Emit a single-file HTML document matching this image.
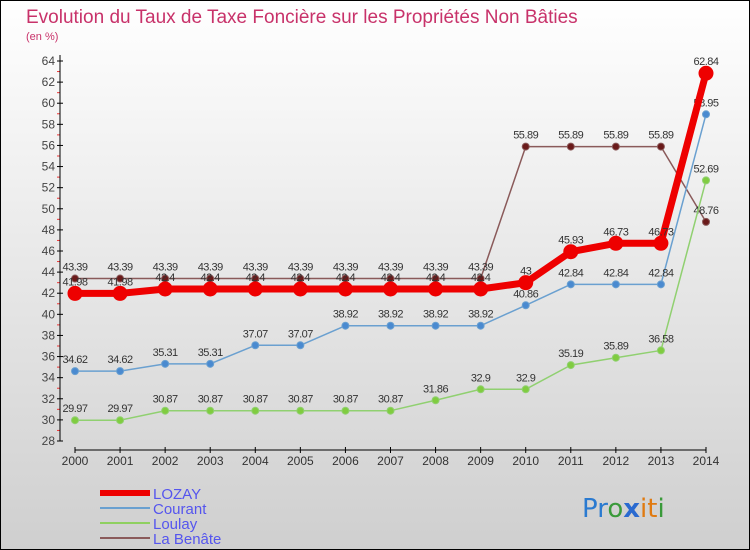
<!DOCTYPE html>
<html><head><meta charset="utf-8"><style>
body{margin:0;width:750px;height:550px;overflow:hidden;font-family:"Liberation Sans",sans-serif}
svg{display:block}
</style></head><body>
<svg id="c" width="750" height="550">
<defs><linearGradient id="bg" x1="0" y1="0" x2="0" y2="1"><stop offset="0" stop-color="#ffffff"/><stop offset="1" stop-color="#cfcfcf"/></linearGradient></defs>
<rect x="0.5" y="0.5" width="749" height="549" fill="url(#bg)" stroke="#000"/>
<text x="26" y="23" font-size="19" fill="#c8326a">Evolution du Taux de Taxe Foncière sur les Propriétés Non Bâties</text>
<text x="26" y="40" font-size="11" fill="#c8326a">(en %)</text>
<g id="axes"></g><g id="series"></g>
<g>
<line x1="100" y1="493" x2="150" y2="493" stroke="#e00" stroke-width="6"/>
<text x="153" y="499" font-size="15" fill="#5555ee">LOZAY</text>
<line x1="100" y1="508" x2="150" y2="508" stroke="#6aa0d0" stroke-width="2"/>
<text x="153" y="514" font-size="15" fill="#5555ee">Courant</text>
<line x1="100" y1="523" x2="150" y2="523" stroke="#8fd060" stroke-width="2"/>
<text x="153" y="529" font-size="15" fill="#5555ee">Loulay</text>
<line x1="100" y1="538" x2="150" y2="538" stroke="#8a5a5a" stroke-width="2"/>
<text x="153" y="544" font-size="15" fill="#5555ee">La Benâte</text>
</g>
<text x="582" y="517" font-size="26" font-family="'DejaVu Sans',sans-serif"><tspan fill="#2a7ad0">Pr</tspan><tspan fill="#3a9a3a">o</tspan><tspan fill="#2a6ad0" font-weight="bold">x</tspan><tspan fill="#e07a10">it</tspan><tspan fill="#3a9a3a">i</tspan></text>
</svg>
<script>
const years=[2000,2001,2002,2003,2004,2005,2006,2007,2008,2009,2010,2011,2012,2013,2014];
const yTicks=[28,30,32,34,36,38,40,42,44,46,48,50,52,54,56,58,60,62,64];
const benate=[43.39,43.39,43.39,43.39,43.39,43.39,43.39,43.39,43.39,43.39,55.89,55.89,55.89,55.89,48.76];
const loulay=[29.97,29.97,30.87,30.87,30.87,30.87,30.87,30.87,31.86,32.9,32.9,35.19,35.89,36.58,52.69];
const courant=[34.62,34.62,35.31,35.31,37.07,37.07,38.92,38.92,38.92,38.92,40.86,42.84,42.84,42.84,58.95];
const lozay=[41.98,41.98,42.4,42.4,42.4,42.4,42.4,42.4,42.4,42.4,43,45.93,46.73,46.73,62.84];
const NS="http://www.w3.org/2000/svg";
const X=i=>75+i*(706-75)/14;
const Y=v=>441-(v-28)*(441-61)/36;
function mk(t,a,p){const e=document.createElementNS(NS,t);for(const k in a)e.setAttribute(k,a[k]);p.appendChild(e);return e;}
const ax=document.getElementById('axes');
yTicks.forEach(v=>{
 mk('line',{x1:57,x2:63,y1:Y(v),y2:Y(v),stroke:'#000'},ax);
 if(v<64) mk('line',{x1:57,x2:60,y1:Y(v+1),y2:Y(v+1),stroke:'#e33'},ax);
 const t=mk('text',{x:55,y:Y(v)+4,'text-anchor':'end','font-size':12,fill:'#444'},ax);t.textContent=v;
 
 
});
mk('line',{x1:60,x2:60,y1:55,y2:441,stroke:'#000'},ax);
mk('line',{x1:X(0),x2:X(14),y1:450,y2:450,stroke:'#000'},ax);
years.forEach((y,i)=>{
 mk('line',{x1:X(i),x2:X(i),y1:447,y2:453,stroke:'#000'},ax);
 const t=mk('text',{x:X(i),y:465,'text-anchor':'middle','font-size':12,fill:'#333'},ax);t.textContent=y;
 
 
});
const sg=document.getElementById('series');
function draw(name,data,col,fill,w,r){
 const g=mk('g',{},sg);
 
 
 mk('polyline',{points:data.map((v,i)=>X(i)+','+Y(v)).join(' '),fill:'none',stroke:col,'stroke-width':w,'stroke-linejoin':'round'},g);
 data.forEach((v,i)=>{
  const c=mk('circle',{cx:X(i),cy:Y(v),r:r,fill:fill,stroke:col,'stroke-width':1},g);
  
  
  const t=mk('text',{x:X(i),y:Y(v)-8,'text-anchor':'middle','font-size':11,fill:'#333','letter-spacing':'-0.5'},g);
  t.textContent=String(v);
  
  
 });
}
draw('series-la-benate',benate,'#8a5a5a','#6a1a1a',1.5,3.5);
draw('series-loulay',loulay,'#90d070','#80cc40',1.5,3.5);
draw('series-courant',courant,'#6aa0d0','#4a8ad0',1.5,3.5);
draw('series-lozay',lozay,'#ee0000','#ee0000',7,7);
</script>
</body></html>
